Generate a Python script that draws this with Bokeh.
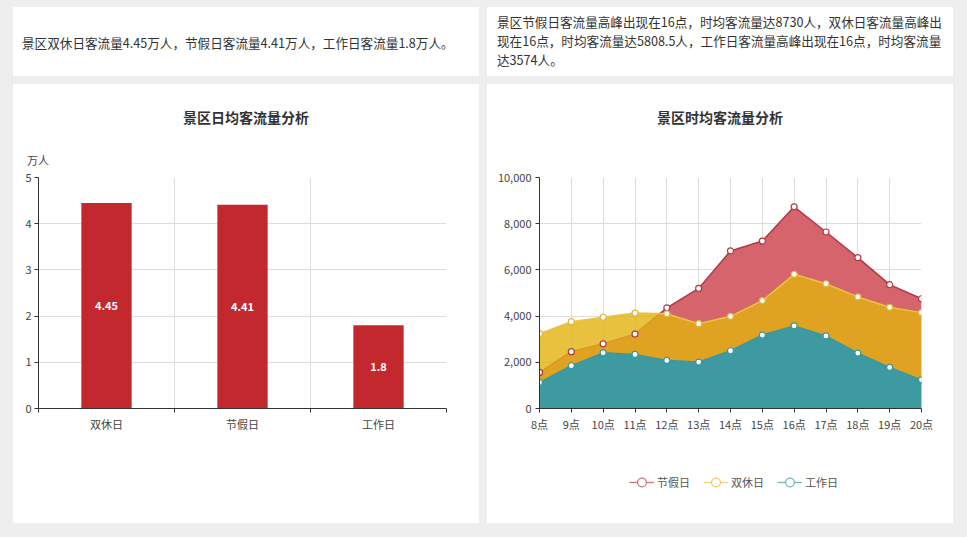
from bokeh.plotting import figure
from bokeh.models import (Div, Range1d, FixedTicker, SingleIntervalTicker,
                          NumeralTickFormatter, Legend, LegendItem)
from bokeh.layouts import row, column
from bokeh.embed import file_html
from bokeh.resources import INLINE
from bokeh.core.properties import value

FONT = "Noto Sans CJK SC"
NAN = float("nan")

# ---------------- data ----------------
day_types = ["双休日", "节假日", "工作日"]
daily_avg = [4.45, 4.41, 1.8]          # 万人

hour_values = [8, 9, 10, 11, 12, 13, 14, 15, 16, 17, 18, 19, 20]
hour_labels = ["8点", "9点", "10点", "11点", "12点", "13点", "14点",
               "15点", "16点", "17点", "18点", "19点", "20点"]
holiday = [1560, 2460, 2800, 3220, 4360, 5200, 6820, 7250, 8730, 7640, 6530, 5360, 4750]
weekend = [3240, 3760, 3950, 4130, 4100, 3670, 3990, 4670, 5808.5, 5400, 4830, 4380, 4150]
workday = [1130, 1850, 2410, 2340, 2080, 2010, 2500, 3180, 3574, 3140, 2400, 1780, 1240]
series_names = ["节假日", "双休日", "工作日"]

summary_left = "景区双休日客流量4.45万人，节假日客流量4.41万人，工作日客流量1.8万人。"
summary_right_lines = [
    "景区节假日客流量高峰出现在16点，时均客流量达8730人，双休日客流量高峰出",
    "现在16点，时均客流量达5808.5人，工作日客流量高峰出现在16点，时均客流量",
    "达3574人。",
]
title_left = "景区日均客流量分析"
title_right = "景区时均客流量分析"
unit_left = "万人"

PANEL_W = 466


def style_fig(p):
    p.outline_line_color = None
    p.background_fill_color = "white"
    p.border_fill_color = "white"
    for ax in p.axis:
        ax.major_label_text_font = FONT
        ax.major_label_text_font_size = "11px"
        ax.major_label_text_color = "#444444"
        ax.axis_line_color = "#333333"
        ax.axis_line_width = 1
        ax.major_tick_line_color = "#333333"
        ax.major_tick_in = 0
        ax.major_tick_out = 4
        ax.minor_tick_line_color = None
        ax.major_label_standoff = 3
    p.grid.grid_line_color = "#dddddd"


def title_div(title, unit=None):
    unit_html = ""
    if unit:
        unit_html = (f'<div style="position:absolute;left:14px;top:69px;font-size:11px;'
                     f'line-height:14px;color:#444;">{unit}</div>')
    html = (f'<div style="position:relative;width:{PANEL_W}px;height:85px;font-family:\'{FONT}\';">'
            f'<div style="position:absolute;left:0;top:23px;width:100%;text-align:center;'
            f'font-size:14px;font-weight:bold;line-height:20px;color:#333;">{title}</div>'
            f'{unit_html}</div>')
    return Div(text=html, width=PANEL_W, height=85, margin=0,
               styles={"background-color": "white"})


# ---------------- top text boxes ----------------
div_a = Div(text=(f'<div style="padding:26px 0 0 9px;font-family:\'{FONT}\';font-size:12.6px;'
                  f'line-height:19px;color:#333;white-space:nowrap;">{summary_left}</div>'),
            width=PANEL_W, height=69, margin=0, styles={"background-color": "white"})
div_b = Div(text=(f'<div style="padding:5px 0 0 10px;font-family:\'{FONT}\';font-size:12.6px;'
                  f'line-height:19px;color:#333;white-space:nowrap;">'
                  + "<br>".join(summary_right_lines) + '</div>'),
            width=PANEL_W, height=69, margin=0, styles={"background-color": "white"})

# ---------------- left: bar chart ----------------
n = len(day_types)
bar_x = [i + 0.5 for i in range(n)]
p1 = figure(width=PANEL_W, height=354, x_range=Range1d(0, n), y_range=Range1d(0, 5),
            output_backend="svg", toolbar_location=None, margin=0,
            min_border_left=25, min_border_right=33, min_border_top=8, min_border_bottom=115)
p1.vbar(x=bar_x, top=daily_avg, width=0.37, fill_color="#c4282f", line_color=None)
p1.text(x=bar_x, y=[v / 2 for v in daily_avg], text=[f"{v:g}" for v in daily_avg],
        text_align="center", text_baseline="middle", text_color="white",
        text_font=value(FONT), text_font_style="bold", text_font_size="11px")
xt = FixedTicker(ticks=bar_x, minor_ticks=list(range(n + 1)))
p1.xaxis.ticker = xt
p1.xaxis.major_label_overrides = {x: lbl for x, lbl in zip(bar_x, day_types)}
p1.yaxis.ticker = SingleIntervalTicker(interval=1)
style_fig(p1)
p1.xaxis.major_tick_line_color = None
p1.xaxis.minor_tick_line_color = "#333333"
p1.xaxis.minor_tick_in = 0
p1.xaxis.minor_tick_out = 4
p1.xgrid.ticker = xt
p1.xgrid.grid_line_color = None
p1.xgrid.minor_grid_line_color = "#dddddd"

# ---------------- right: area chart ----------------
p2 = figure(width=PANEL_W, height=271, x_range=Range1d(hour_values[0], hour_values[-1]),
            y_range=Range1d(0, 10000), output_backend="svg", toolbar_location=None, margin=0,
            min_border_left=52, min_border_right=32, min_border_top=8, min_border_bottom=32)

colors = {
    "节假日": dict(area="#d6646c", area_alpha=1.0, line="#b03a44", mk="#b03a44"),
    "双休日": dict(area="#e2b20f", area_alpha=0.8, line="#e8c440", mk="#e2b540"),
    "工作日": dict(area="#3e9aa1", area_alpha=1.0, line="#3a98a0", mk="#3a98a0"),
}
data = {"节假日": holiday, "双休日": weekend, "工作日": workday}
for name in series_names:
    c = colors[name]
    p2.varea(x=hour_values, y1=0, y2=data[name], fill_color=c["area"], fill_alpha=c["area_alpha"])
    p2.line(hour_values, data[name], line_color=c["line"], line_width=1.5)
for name in series_names:
    c = colors[name]
    p2.scatter(hour_values, data[name], marker="circle", size=6,
               fill_color="white", line_color=c["mk"], line_width=1.2)

p2.xaxis.ticker = FixedTicker(ticks=hour_values)
p2.xaxis.major_label_overrides = {h: lbl for h, lbl in zip(hour_values, hour_labels)}
p2.yaxis.ticker = SingleIntervalTicker(interval=2000)
p2.yaxis.formatter = NumeralTickFormatter(format="0,0")
style_fig(p2)
p2.yaxis.major_label_standoff = 4

# legend strip under the area chart (series styles repeated for the key)
pl = figure(width=PANEL_W, height=83, x_range=Range1d(0, 1), y_range=Range1d(0, 1),
            x_axis_type=None, y_axis_type=None, output_backend="svg",
            toolbar_location=None, margin=0, min_border=0)
pl.outline_line_color = None
pl.background_fill_color = "white"
pl.border_fill_color = "white"
items = []
for name in series_names:
    c = colors[name]
    lr = pl.line([NAN], [NAN], line_color=c["line"], line_width=1.3, line_alpha=0.7)
    sr = pl.scatter([NAN], [NAN], marker="circle", size=9, fill_color="white",
                    line_color=c["mk"], line_width=1.2, line_alpha=0.7)
    items.append(LegendItem(label=name, renderers=[lr, sr]))
legend = Legend(items=items, orientation="horizontal", location=(90, 30),
                padding=0, margin=0, spacing=13, glyph_width=25, glyph_height=22,
                label_height=22, label_standoff=3, label_text_font=FONT,
                label_text_font_size="11px", label_text_color="#555555",
                background_fill_alpha=0, border_line_color=None)
pl.add_layout(legend)

# ---------------- layout ----------------
panel_style = {"background-color": "white"}
top_row = row(div_a, div_b, spacing=8, margin=(7, 0, 0, 13))
left_panel = column(title_div(title_left, unit_left), p1, spacing=0, margin=0,
                    styles=panel_style)
right_panel = column(title_div(title_right), p2, pl, spacing=0, margin=0,
                     styles=panel_style)
bottom_row = row(left_panel, right_panel, spacing=8, margin=(0, 0, 0, 13))
root = column(top_row, bottom_row, spacing=8, width=967, height=537,
              styles={"background-color": "#eeeeee"})

open("out.html", "w").write(file_html(root, INLINE))
